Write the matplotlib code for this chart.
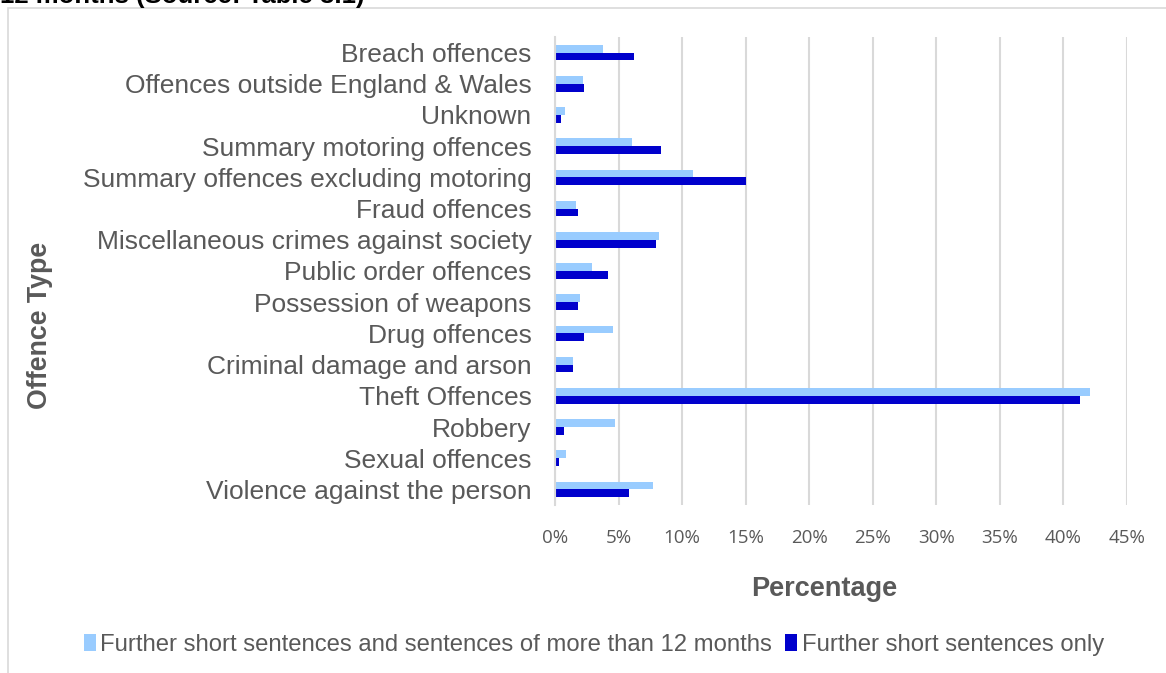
import matplotlib.pyplot as plt
import matplotlib.patches as mpatches
from matplotlib.ticker import FuncFormatter

# offence categories, listed bottom to top as they appear on the axis
offences = ['Violence against the person', 'Sexual offences', 'Robbery', 'Theft Offences',
            'Criminal damage and arson', 'Drug offences', 'Possession of weapons',
            'Public order offences', 'Miscellaneous crimes against society', 'Fraud offences',
            'Summary offences excluding motoring', 'Summary motoring offences', 'Unknown',
            'Offences outside England & Wales', 'Breach offences']

# percentages
short_and_long = [7.7, 0.9, 4.7, 42.05, 1.4, 4.55, 1.95, 2.95, 8.2, 1.65, 10.85, 6.05, 0.8, 2.2, 3.8]
short_only = [5.8, 0.3, 0.7, 41.3, 1.4, 2.3, 1.8, 4.2, 7.95, 1.8, 15.0, 8.35, 0.5, 2.3, 6.2]

series_names = ['Further short sentences and sentences of more than 12 months',
                'Further short sentences only']
light = '#99CCFF'
dark = '#0000CC'
grey = '#595959'

W, H = 1166, 673
fig = plt.figure(figsize=(W / 100, H / 100), dpi=100)

# chart border (runs off the right and bottom edges)
fig.patches.append(mpatches.Rectangle((8 / W, -0.1), 1.2, (H - 8) / H + 0.1,
                                      transform=fig.transFigure, fill=False,
                                      edgecolor='#D9D9D9', linewidth=1.2))

# caption above, mostly cut off by the top edge
fig.text(0.0, 1 - 3 / H, '12 months (Source: Table 3.1)', ha='left', va='baseline',
         fontsize=18.5, fontweight='bold', family='Liberation Sans', color='black')

ax = fig.add_axes([555 / W, 1 - 505 / H, (1127 - 555) / W, (505 - 37) / H])

y = list(range(len(offences)))
bh = 0.25
ax.barh([v + bh / 2 for v in y], short_and_long, height=bh, color=light, label=series_names[0])
ax.barh([v - bh / 2 for v in y], short_only, height=bh, color=dark, label=series_names[1])

ax.set_xlim(0, 45)
ax.set_ylim(-0.5, len(offences) - 0.5)
ax.set_xticks(range(0, 50, 5))
ax.xaxis.set_major_formatter(FuncFormatter(lambda v, p: f'{v:.0f}%'))
ax.set_yticks(y)
ax.set_yticklabels(offences, family='Liberation Sans', fontsize=19, color=grey)
for lab in ax.get_xticklabels():
    lab.set_family('Open Sans')
    lab.set_fontsize(13.5)
    lab.set_color(grey)

ax.grid(axis='x', color='#D9D9D9', linewidth=1.5)
ax.set_axisbelow(True)
for s in ['top', 'right', 'bottom']:
    ax.spines[s].set_visible(False)
ax.spines['left'].set_color('#D9D9D9')
ax.spines['left'].set_linewidth(1.5)
ax.tick_params(axis='both', length=0)
ax.tick_params(axis='y', pad=17)
ax.tick_params(axis='x', pad=17)

fig.text(824 / W, 1 - 589 / H, 'Percentage', ha='center', va='center',
         fontsize=19.5, fontweight='bold', family='Liberation Sans', color=grey)
fig.text(40 / W, 1 - 325 / H, 'Offence Type', ha='center', va='center', rotation=90,
         fontsize=19.3, fontweight='bold', family='Liberation Sans', color=grey)

leg = fig.legend(loc='center', bbox_to_anchor=(594 / W, 1 - 645 / H), ncol=2, frameon=False,
                 handlelength=0.5, handleheight=0.7, handletextpad=0.2, columnspacing=0.55,
                 prop={'family': 'Liberation Sans', 'size': 17.2})
for t in leg.get_texts():
    t.set_color(grey)

fig.savefig('out.png', dpi=100)
